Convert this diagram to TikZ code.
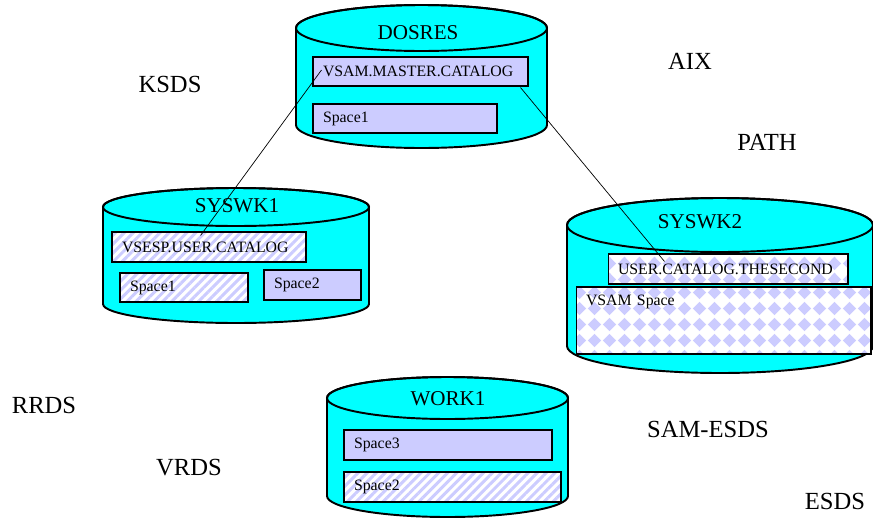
\documentclass[tikz,border=0pt]{standalone}
\usepackage{fontspec}
\setmainfont{Liberation Serif}
\usepackage{tikz}
\usetikzlibrary{calc,patterns.meta}
\definecolor{drumcyan}{RGB}{0,255,255}
\definecolor{spacelav}{RGB}{204,204,255}
\pgfdeclarepattern{
  name=diamonds, type=uncolored,
  bottom left={\pgfpoint{0pt}{0pt}}, top right={\pgfpoint{8.8pt}{8.8pt}},
  tile size={\pgfpoint{8.8pt}{8.8pt}},
  code={
    \pgfpathmoveto{\pgfpoint{4.4pt}{0.5pt}}
    \pgfpathlineto{\pgfpoint{8.3pt}{4.4pt}}
    \pgfpathlineto{\pgfpoint{4.4pt}{8.3pt}}
    \pgfpathlineto{\pgfpoint{0.5pt}{4.4pt}}
    \pgfpathclose
    \pgfusepath{fill}
  }
}
\tikzset{
  drumline/.style={line width=1.1pt, fill=drumcyan},
  spacebox/.style={draw, line width=0.6pt, inner xsep=0.2cm, inner ysep=0pt, align=left,
    font=\fontsize{9}{10}\selectfont},
  solidspace/.style={spacebox, fill=spacelav},
  stripespace/.style={spacebox, preaction={fill=white},
    pattern={Lines[angle=45,distance=3.6pt,line width=1.7pt]}, pattern color=spacelav},
  diamondspace/.style={spacebox, preaction={fill=white}, pattern=diamonds, pattern color=spacelav},
  drumtitle/.style={font=\fontsize{12}{14}\selectfont},
  kindlabel/.style={font=\fontsize{14}{16}\selectfont}
}
\def\drum(#1:#2:#3)(#4:#5){\draw[drumline] ({#1-#4},#2) -- ({#1-#4},#3) arc[start angle=180, end angle=0, x radius=#4, y radius=#5] -- ({#1+#4},#2) arc[start angle=0, end angle=-180, x radius=#4, y radius=#5] -- cycle;
  \draw[line width=1.1pt] (#1,#2) ellipse[x radius=#4, y radius=#5];}

\begin{document}
\begin{tikzpicture}[x=0.02cm, y=-0.02cm]
		%%%%% START %%%%%
		\useasboundingbox (0,0) rectangle (873,518);
		
		% DOSRES
		\drum(421.5:28:125)(125.5:23)
		\node[drumtitle] (dosres) at (418,33) {DOSRES};
		\node[solidspace, text width=3.90cm, minimum height=0.58cm] (mastercat) at (420.5,71.5) {VSAM.MASTER.CATALOG};
		\node[solidspace, text width=3.28cm, minimum height=0.58cm] (dosspace) at (405,118.5) {Space1};
		
		% SYSWK1
		\drum(236:207:304)(133:19)
		\node[drumtitle] (syswka) at (237,206) {SYSWK1};
		\node[stripespace, text width=3.48cm, minimum height=0.60cm] (vsespcat) at (209,247) {VSESP.USER.CATALOG};
		\node[stripespace, text width=2.16cm, minimum height=0.58cm] (syswkaspa) at (184,287.5) {Space1};
		\node[solidspace, text width=1.54cm, minimum height=0.60cm] (syswkaspb) at (312.5,285) {Space2};
		
		% SYSWK2
		\drum(720:225:346)(153:27)
		\node[drumtitle] (syswkb) at (700,222) {SYSWK2};
		\node[diamondspace, text width=4.40cm, minimum height=0.60cm] (secondcat) at (728,269) {USER.CATALOG.THESECOND};
		\node[diamondspace, text width=5.50cm, text height=0.36cm, text depth=0.98cm] (vsamspace) at (723.5,320.5) {VSAM Space};
		
		% WORK1
		\drum(447.5:398:496)(120.5:21)
		\node[drumtitle] (worka) at (448,399) {WORK1};
		\node[solidspace, text width=3.76cm, minimum height=0.60cm] (workspc) at (448,445) {Space3};
		\node[stripespace, text width=3.94cm, minimum height=0.60cm] (workspb) at (452.5,487) {Space2};
		
		% catalog links
		\coordinate (linka) at ($(mastercat.west)+(9,-1.5)$);
		\coordinate (linkb) at ($(vsespcat.north west)+(90,5)$);
		\coordinate (linkc) at ($(mastercat.south east)+(-8,1)$);
		\coordinate (linkd) at ($(secondcat.north west)+(57,8)$);
		\draw[line width=0.4pt] (linka) -- (linkb);
		\draw[line width=0.4pt] (linkc) -- (linkd);
		
		% data set kinds
		\node[kindlabel] (ksds) at (170,84) {KSDS};
		\node[kindlabel] (aix) at (690,61) {AIX};
		\node[kindlabel] (path) at (767,142) {PATH};
		\node[kindlabel] (rrds) at (44,405) {RRDS};
		\node[kindlabel] (vrds) at (189,468) {VRDS};
		\node[kindlabel] (samesds) at (708,429) {SAM-ESDS};
		\node[kindlabel] (esds) at (835,501) {ESDS};
		
		%%%%% END %%%%%
\end{tikzpicture}
\end{document}
